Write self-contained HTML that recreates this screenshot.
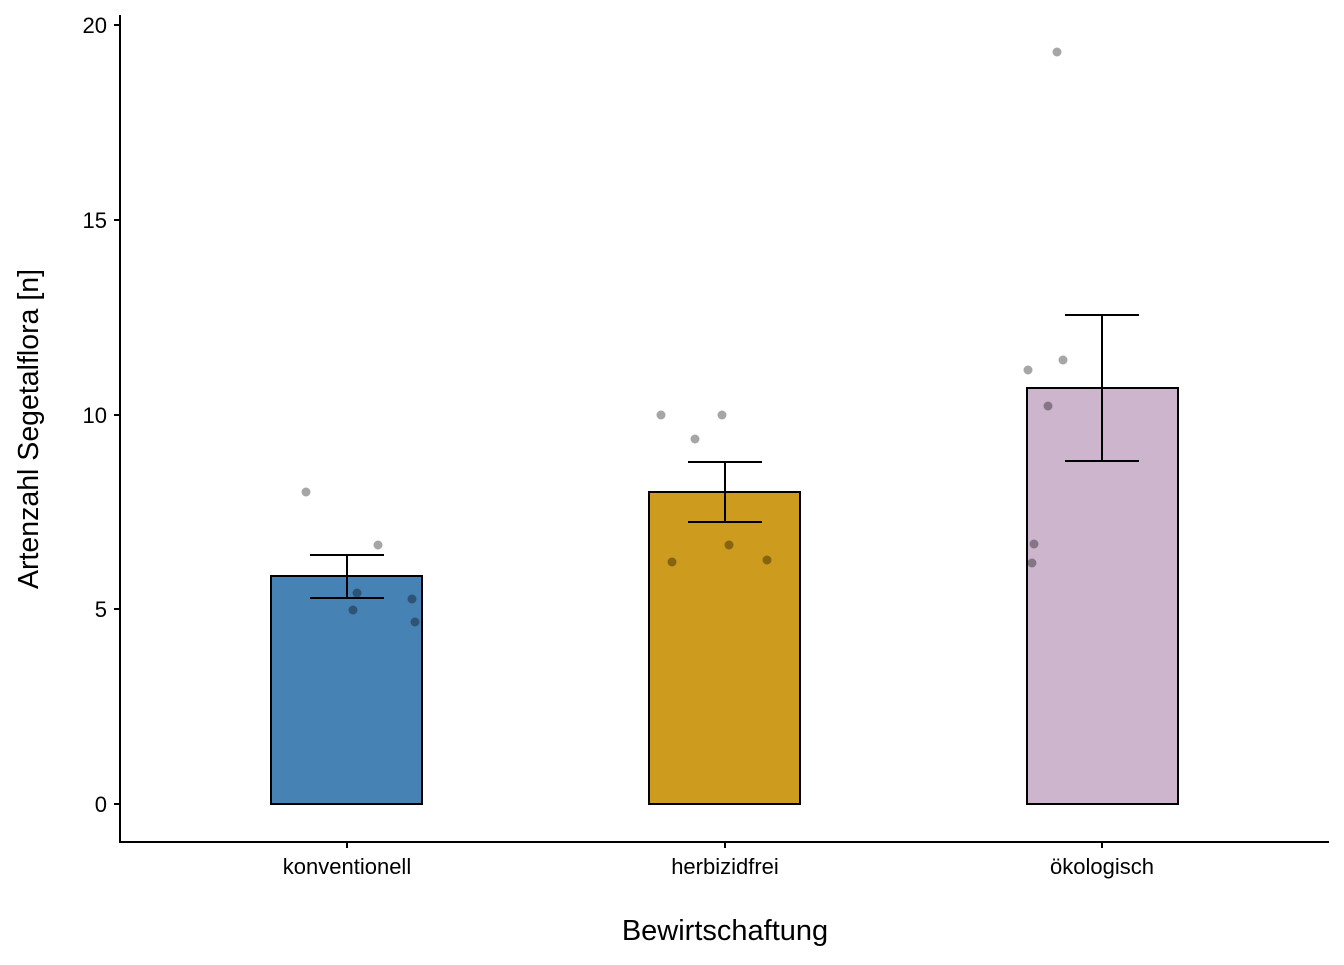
<!DOCTYPE html>
<html><head><style>body{margin:0;background:#fff}</style></head><body>
<svg width="1344" height="960" xmlns="http://www.w3.org/2000/svg" font-family="Liberation Sans, Arial, sans-serif">
<rect width="1344" height="960" fill="#fff"/>
<g stroke="#000" stroke-width="2">
<rect x="271" y="576" width="151" height="228" fill="#4682B4"/>
<rect x="649" y="492" width="151" height="312" fill="#CD9B1D"/>
<rect x="1027" y="388" width="151" height="416" fill="#CDB5CD"/>
</g>
<g fill="#000" fill-opacity="0.35">
<circle cx="306" cy="492" r="4.5"/><circle cx="378" cy="545" r="4.5"/><circle cx="357" cy="593" r="4.5"/><circle cx="353" cy="610" r="4.5"/><circle cx="412" cy="599" r="4.5"/><circle cx="415" cy="622" r="4.5"/>
<circle cx="661" cy="415" r="4.5"/><circle cx="722" cy="415" r="4.5"/><circle cx="695" cy="439" r="4.5"/><circle cx="672" cy="562" r="4.5"/><circle cx="729" cy="545" r="4.5"/><circle cx="767" cy="560" r="4.5"/>
<circle cx="1057" cy="52" r="4.5"/><circle cx="1028" cy="370" r="4.5"/><circle cx="1063" cy="360" r="4.5"/><circle cx="1048" cy="406" r="4.5"/><circle cx="1034" cy="544" r="4.5"/><circle cx="1032" cy="563" r="4.5"/>
</g>
<g stroke="#000" stroke-width="2" fill="none">
<path d="M347 555V598M310 555H384M310 598H384"/>
<path d="M725 462V522M688 462H762M688 522H762"/>
<path d="M1102 315V461M1065 315H1139M1065 461H1139"/>
<path d="M120 15V842H1329"/>
<path d="M114 804H120M114 609H120M114 415H120M114 220H120M114 25H120"/>
<path d="M347 842V848M725 842V848M1102 842V848"/>
</g>
<g font-size="22" fill="#000" text-anchor="end">
<text x="107" y="812">0</text><text x="107" y="617">5</text><text x="107" y="423">10</text><text x="107" y="228">15</text><text x="107" y="33">20</text>
</g>
<g font-size="22" fill="#000" text-anchor="middle">
<text x="347" y="874">konventionell</text><text x="725" y="874">herbizidfrei</text><text x="1102" y="874">ökologisch</text>
</g>
<text x="725" y="940" font-size="29" text-anchor="middle">Bewirtschaftung</text>
<text transform="translate(38,429) rotate(-90)" font-size="28.5" text-anchor="middle">Artenzahl Segetalflora [n]</text>
</svg>
</body></html>
